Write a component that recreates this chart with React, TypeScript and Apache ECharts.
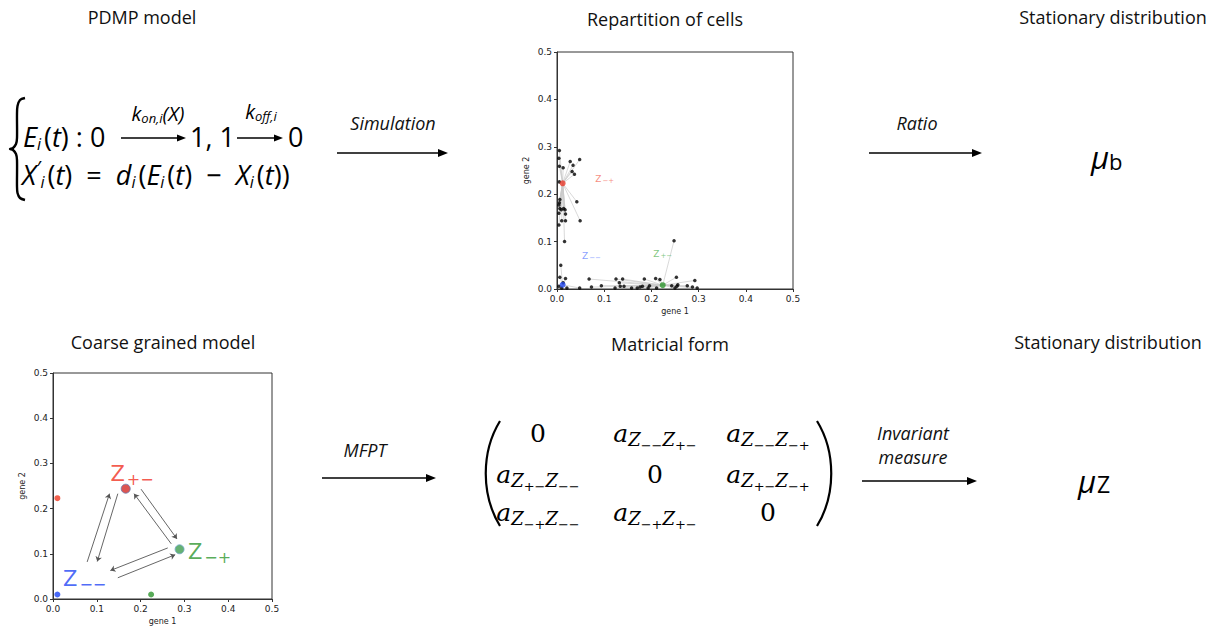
import React, { useEffect, useRef } from "react";
import * as echarts from "echarts";

// ---------- data ----------
const tickValues = [0, 0.1, 0.2, 0.3, 0.4, 0.5];

// simulated cells (top plot, "Repartition of cells")
const cellPoints: number[][] = [
  [0.005, 0.292], [0.004, 0.276], [0.005, 0.259], [0.013, 0.256], [0.028, 0.269],
  [0.048, 0.273], [0.034, 0.261], [0.032, 0.248], [0.037, 0.242], [0.005, 0.226],
  [0.042, 0.184], [0.006, 0.189], [0.005, 0.182], [0.004, 0.177], [0.006, 0.170],
  [0.009, 0.167], [0.014, 0.170], [0.017, 0.167], [0.004, 0.160], [0.018, 0.158],
  [0.010, 0.144], [0.018, 0.144], [0.049, 0.144], [0.004, 0.135], [0.016, 0.100],
  [0.008, 0.050], [0.006, 0.025], [0.018, 0.022], [0.013, 0.013], [0.004, 0.006],
  [0.021, 0.002], [0.048, 0.002], [0.010, 0.002],
  [0.068, 0.021], [0.073, 0.004], [0.094, 0.007], [0.125, 0.021], [0.132, 0.013],
  [0.139, 0.021], [0.134, 0.006], [0.123, 0.002], [0.142, 0.006], [0.158, 0.002],
  [0.170, 0.002], [0.176, 0.004], [0.185, 0.021], [0.181, 0.006], [0.193, 0.002],
  [0.196, 0.007], [0.209, 0.022], [0.211, 0.002], [0.218, 0.020], [0.248, 0.102],
  [0.253, 0.025], [0.243, 0.007], [0.250, 0.002], [0.254, 0.006], [0.256, 0.009],
  [0.276, 0.007], [0.292, 0.018], [0.287, 0.004], [0.297, 0.002],
];
const topRedCenter = [0.012, 0.223];
const topBlueCenter = [0.012, 0.009];
const topGreenCenter = [0.224, 0.008];
const topLabels = [
  { name: "−+", pos: [0.081, 0.233], color: "rgba(240,60,40,0.75)" },
  { name: "−−", pos: [0.053, 0.07], color: "rgba(40,80,255,0.7)" },
  { name: "+−", pos: [0.204, 0.074], color: "rgba(40,160,40,0.75)" },
];

// coarse grained model (bottom-left plot)
const smallRed = [0.01, 0.223];
const smallBlue = [0.01, 0.01];
const smallGreen = [0.224, 0.01];
const bigRed = [0.166, 0.244];
const bigGreen = [0.289, 0.11];
const transitionArrows: number[][][] = [
  [[0.078, 0.082], [0.129, 0.233]],
  [[0.148, 0.233], [0.101, 0.083]],
  [[0.201, 0.243], [0.283, 0.133]],
  [[0.27, 0.122], [0.185, 0.233]],
  [[0.262, 0.113], [0.131, 0.063]],
  [[0.148, 0.047], [0.279, 0.098]],
];
const bottomLabels = [
  { name: "+−", pos: [0.131, 0.277], color: "#f0301f" },
  { name: "−+", pos: [0.308, 0.104], color: "#2e962e" },
  { name: "−−", pos: [0.023, 0.045], color: "#1f45f5" },
];

// ---------- helpers ----------
const TXT = "#111";
const SANS = "'Open Sans', sans-serif";

function arrow(x1: number, x2: number, y: number, head = 10, hw = 4, width = 1.5) {
  return [
    { type: "line", shape: { x1, y1: y, x2: x2 - head + 1, y2: y }, style: { stroke: "#000", lineWidth: width } },
    { type: "polygon", shape: { points: [[x2, y], [x2 - head, y - hw], [x2 - head, y + hw]] }, style: { fill: "#000" } },
  ];
}

function title(text: string, x: number, y: number) {
  return { type: "text", x, y, style: { text, font: `18px ${SANS}`, fill: TXT, align: "center", verticalAlign: "middle" } };
}
function italicLabel(text: string, x: number, y: number) {
  return { type: "text", x, y, style: { text, font: `italic 18px ${SANS}`, fill: TXT, align: "center", verticalAlign: "middle" } };
}

const formulaRich = {
  v: { fontFamily: "Open Sans", fontStyle: "italic", fontSize: 27, color: TXT },
  n: { fontFamily: "Open Sans", fontSize: 27, color: TXT },
  s: { fontFamily: "Open Sans", fontStyle: "italic", fontSize: 16, color: TXT, padding: [15, 3, 0, 0] },
  p: { fontFamily: "Open Sans", fontStyle: "italic", fontSize: 20, color: TXT, padding: [0, 0, 14, 0] },
  k: { fontFamily: "Open Sans", fontStyle: "italic", fontSize: 20, color: TXT },
  ks: { fontFamily: "Open Sans", fontStyle: "italic", fontSize: 13, color: TXT, padding: [10, 0, 0, 0] },
};

const matRich = {
  a: { fontFamily: "DejaVu Serif", fontStyle: "italic", fontSize: 25, color: TXT },
  z: { fontFamily: "DejaVu Serif", fontStyle: "italic", fontSize: 18, color: TXT, padding: [12, 0, 0, 0] },
  g: { fontFamily: "DejaVu Serif", fontSize: 13, color: TXT, padding: [24, 0, 0, 0] },
  o: { fontFamily: "DejaVu Serif", fontSize: 25, color: TXT },
};
const matrixEntries: string[][] = [
  ["0", "−−|+−", "−−|−+"],
  ["+−|−−", "0", "+−|−+"],
  ["−+|−−", "−+|+−", "0"],
];
const matColX = [538, 655, 768];
const matRowY = [433, 474, 512];

function matEntry(e: string) {
  if (e === "0") return "{o|0}";
  const [p, q] = e.split("|");
  return `{a|a}{z|Z}{g|${p}}{z|Z}{g|${q}}`;
}

function axisPair(gridIndex: number) {
  const common = {
    gridIndex,
    type: "value",
    min: tickValues[0],
    max: tickValues[tickValues.length - 1],
    interval: 0.1,
    axisLine: { show: true, lineStyle: { color: "#333", width: 1 } },
    axisTick: { show: true, length: 3, lineStyle: { color: "#333" } },
    splitLine: { show: false },
    axisLabel: { fontFamily: "DejaVu Sans", fontSize: 9, color: "#222", formatter: (v: number) => v.toFixed(1), margin: 5 },
    nameLocation: "middle",
    nameTextStyle: { fontFamily: "DejaVu Sans", fontSize: 8, color: "#222" },
  };
  return {
    x: { ...common, name: "gene 1", nameGap: 18 },
    y: { ...common, name: "gene 2", nameGap: 27 },
  };
}

export default function App() {
  const ref = useRef<HTMLDivElement>(null);
  useEffect(() => {
    if (!ref.current) return;
    const chart = echarts.init(ref.current, undefined, { renderer: "svg" });

    const nearest = (p: number[]) =>
      p[1] > 0.09 && p[0] < 0.1 ? topRedCenter : p[0] < 0.05 ? topBlueCenter : topGreenCenter;
    const links = cellPoints.map((p) => ({ coords: [nearest(p), p] }));

    const a0 = axisPair(0);
    const a1 = axisPair(1);

    const graphic: any[] = [
      title("PDMP model", 142, 17),
      title("Repartition of cells", 665, 19),
      title("Stationary distribution", 1113, 17),
      title("Coarse grained model", 163, 342),
      title("Matricial form", 670, 344),
      title("Stationary distribution", 1108, 342),
      italicLabel("Simulation", 393, 123),
      ...arrow(337, 448, 153),
      italicLabel("Ratio", 917, 123),
      ...arrow(869, 982, 153),
      italicLabel("MFPT", 365, 450),
      ...arrow(322, 436, 478),
      italicLabel("Invariant", 913, 433),
      italicLabel("measure", 913, 457),
      ...arrow(862, 977, 481),
      // mu symbols
      {
        type: "text", x: 1091, y: 157,
        style: {
          text: "{m|μ}{b|b}", verticalAlign: "middle",
          rich: {
            m: { fontFamily: "Open Sans", fontStyle: "italic", fontSize: 31, color: TXT },
            b: { fontFamily: "Open Sans", fontSize: 22, color: "#222", padding: [8, 0, 0, 0] },
          },
        },
      },
      {
        type: "text", x: 1078, y: 481,
        style: {
          text: "{m|μ}{b|Z}", verticalAlign: "middle",
          rich: {
            m: { fontFamily: "Open Sans", fontStyle: "italic", fontSize: 31, color: TXT },
            b: { fontFamily: "Open Sans", fontSize: 23, color: "#222", padding: [6, 0, 0, 1] },
          },
        },
      },
      // brace of the PDMP system
      {
        type: "polyline",
        shape: {
          points: [
            [25, 98], [20, 100], [17.5, 106], [17, 114], [17, 138], [16, 144], [13, 148], [10, 149],
            [13, 150], [16, 154], [17, 160], [17, 186], [17.5, 193], [20, 198], [25, 200],
          ],
          smooth: 0.3,
        },
        style: { stroke: "#000", lineWidth: 2.4, fill: null },
      },
      {
        type: "text", x: 23, y: 136,
        style: { text: "{v|E}{s|i}{n|(}{v|t}{n|) : 0}", verticalAlign: "middle", rich: formulaRich },
      },
      ...arrow(121, 186, 138, 9, 3.5, 1.3),
      {
        type: "text", x: 158, y: 113,
        style: { text: "{k|k}{ks|on,i}{k|(}{k|X}{k|)}", align: "center", verticalAlign: "middle", rich: formulaRich },
      },
      {
        type: "text", x: 190, y: 136,
        style: { text: "{n|1, 1}", verticalAlign: "middle", rich: formulaRich },
      },
      ...arrow(237, 283, 138, 9, 3.5, 1.3),
      {
        type: "text", x: 261, y: 111,
        style: { text: "{k|k}{ks|off,i}", align: "center", verticalAlign: "middle", rich: formulaRich },
      },
      {
        type: "text", x: 288, y: 136,
        style: { text: "{n|0}", verticalAlign: "middle", rich: formulaRich },
      },
      {
        type: "text", x: 22, y: 174,
        style: {
          text: "{v|X}{p|′}{s|i}{n|(}{v|t}{n|)  =  }{v|d}{s|i}{n|(}{v|E}{s|i}{n|(}{v|t}{n|)  −  }{v|X}{s|i}{n|(}{v|t}{n|))}",
          verticalAlign: "middle", rich: formulaRich,
        },
      },
      // matrix parentheses
      {
        type: "bezierCurve",
        shape: { x1: 500, y1: 421, x2: 500, y2: 526, cpx1: 481, cpy1: 452, cpx2: 481, cpy2: 495 },
        style: { stroke: "#000", lineWidth: 2.2, fill: null },
      },
      {
        type: "bezierCurve",
        shape: { x1: 817, y1: 421, x2: 817, y2: 526, cpx1: 836, cpy1: 452, cpx2: 836, cpy2: 495 },
        style: { stroke: "#000", lineWidth: 2.2, fill: null },
      },
    ];

    matrixEntries.forEach((row, r) =>
      row.forEach((e, c) => {
        graphic.push({
          type: "text", x: matColX[c], y: matRowY[r],
          style: { text: matEntry(e), align: "center", verticalAlign: "middle", rich: matRich },
        });
      })
    );

    const labelSeries = (labels: any[], gi: number, big: boolean) =>
      labels.map((l) => ({
        type: "scatter",
        xAxisIndex: gi,
        yAxisIndex: gi,
        symbolSize: 0,
        silent: true,
        z: 6,
        data: [l.pos],
        label: {
          show: true,
          position: "inside",
          align: "left",
          verticalAlign: "middle",
          formatter: `{z|Z}{s|${l.name}}`,
          rich: big
            ? {
                z: { fontFamily: "DejaVu Sans", fontSize: 21, color: l.color },
                s: { fontFamily: "DejaVu Sans", fontSize: 16, color: l.color, padding: [12, 0, 0, 2] },
              }
            : {
                z: { fontFamily: "DejaVu Sans", fontSize: 9, color: l.color },
                s: { fontFamily: "DejaVu Sans", fontSize: 7, color: l.color, padding: [5, 0, 0, 1] },
              },
        },
      }));

    chart.setOption({
      animation: false,
      backgroundColor: "#ffffff",
      grid: [
        { left: 557, top: 52, width: 236, height: 237, show: true, borderColor: "#333", borderWidth: 1, backgroundColor: "#fff" },
        { left: 53, top: 373, width: 219, height: 226, show: true, borderColor: "#333", borderWidth: 1, backgroundColor: "#fff" },
      ],
      xAxis: [
        { ...a0.x, gridIndex: 0 },
        { ...a1.x, gridIndex: 1 },
      ],
      yAxis: [
        { ...a0.y, gridIndex: 0 },
        { ...a1.y, gridIndex: 1 },
      ],
      series: [
        {
          type: "lines",
          coordinateSystem: "cartesian2d",
          xAxisIndex: 0,
          yAxisIndex: 0,
          silent: true,
          z: 2,
          lineStyle: { color: "#c8c8c8", width: 0.7, opacity: 1 },
          data: links,
        },
        {
          type: "scatter",
          xAxisIndex: 0,
          yAxisIndex: 0,
          symbolSize: 3.5,
          z: 3,
          itemStyle: { color: "#000" },
          data: cellPoints,
        },
        {
          type: "scatter", xAxisIndex: 0, yAxisIndex: 0, symbolSize: 6, z: 4,
          itemStyle: { color: "#e8392a" }, data: [topRedCenter],
        },
        {
          type: "scatter", xAxisIndex: 0, yAxisIndex: 0, symbolSize: 6, z: 4,
          itemStyle: { color: "#2348f0" }, data: [topBlueCenter],
        },
        {
          type: "scatter", xAxisIndex: 0, yAxisIndex: 0, symbolSize: 6, z: 4,
          itemStyle: { color: "#2e962e" }, data: [topGreenCenter],
        },
        ...labelSeries(topLabels, 0, false),
        // bottom-left
        {
          type: "lines",
          coordinateSystem: "cartesian2d",
          xAxisIndex: 1,
          yAxisIndex: 1,
          silent: true,
          z: 2,
          symbol: ["none", "arrow"],
          symbolSize: 5,
          lineStyle: { color: "#555", width: 0.9, opacity: 1 },
          data: transitionArrows.map((c) => ({ coords: c })),
        },
        {
          type: "scatter", xAxisIndex: 1, yAxisIndex: 1, symbolSize: 6, z: 4,
          itemStyle: { color: "#f03a22" }, data: [smallRed],
        },
        {
          type: "scatter", xAxisIndex: 1, yAxisIndex: 1, symbolSize: 6, z: 4,
          itemStyle: { color: "#1a44f5" }, data: [smallBlue],
        },
        {
          type: "scatter", xAxisIndex: 1, yAxisIndex: 1, symbolSize: 6, z: 4,
          itemStyle: { color: "#2e962e" }, data: [smallGreen],
        },
        {
          type: "scatter", xAxisIndex: 1, yAxisIndex: 1, symbolSize: 9, z: 4,
          itemStyle: { color: "#d42a25", borderColor: "#6677aa", borderWidth: 1 }, data: [bigRed],
        },
        {
          type: "scatter", xAxisIndex: 1, yAxisIndex: 1, symbolSize: 9, z: 4,
          itemStyle: { color: "#3e9e50", borderColor: "#77aacc", borderWidth: 1 }, data: [bigGreen],
        },
        ...labelSeries(bottomLabels, 1, true),
      ],
      graphic,
    } as any);

    return () => chart.dispose();
  }, []);

  return (
    <div
      ref={ref}
      style={{ position: "fixed", left: 0, top: 0, width: 1220, height: 626, background: "#fff" }}
    />
  );
}
